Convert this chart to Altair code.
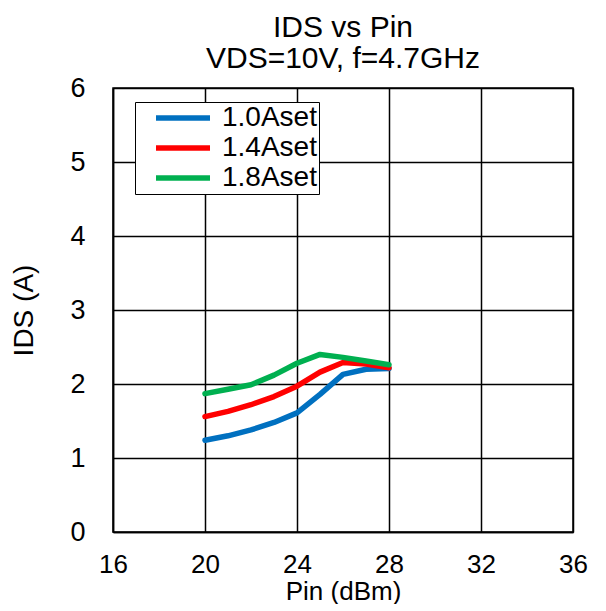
import altair as alt
import pandas as pd

pin = [20, 21, 22, 23, 24, 25, 26, 27, 28]
ids_10 = [1.24, 1.30, 1.38, 1.48, 1.61, 1.86, 2.13, 2.20, 2.21]
ids_14 = [1.56, 1.63, 1.72, 1.83, 1.97, 2.16, 2.29, 2.27, 2.22]
ids_18 = [1.87, 1.93, 1.99, 2.12, 2.28, 2.40, 2.36, 2.31, 2.26]
series = ["1.0Aset", "1.4Aset", "1.8Aset"]
colors = ["#0070C0", "#FF0000", "#00B050"]
x_ticks = [16, 20, 24, 28, 32, 36]
y_ticks = [0, 1, 2, 3, 4, 5, 6]

rows = []
for name, vals in zip(series, [ids_10, ids_14, ids_18]):
    for p, v in zip(pin, vals):
        rows.append({"Pin": p, "IDS": v, "Series": name})
df = pd.DataFrame(rows)

FONT = "Liberation Sans"

chart = alt.Chart(df).mark_line(strokeWidth=5.5, strokeCap="round", strokeJoin="round").encode(
    x=alt.X("Pin:Q", scale=alt.Scale(domain=[16, 36], nice=False),
            axis=alt.Axis(title="Pin (dBm)", values=x_ticks, labelOverlap=False,
                          labelFlush=False, labelPadding=19, titlePadding=1,
                          labelFontSize=26, titleFontSize=26)),
    y=alt.Y("IDS:Q", scale=alt.Scale(domain=[0, 6], nice=False),
            axis=alt.Axis(title="IDS (A)", values=y_ticks, labelOverlap=False,
                          labelFlush=False, labelPadding=28, titlePadding=31)),
    color=alt.Color("Series:N", scale=alt.Scale(domain=series, range=colors),
                    legend=alt.Legend(title=None, orient="none", legendX=22, legendY=14,
                                      symbolType="M-1,0L5,0", symbolSize=324,
                                      symbolStrokeWidth=5.5, labelFontSize=28,
                                      labelFont=FONT, labelColor="black",
                                      fillColor="white", strokeColor="black",
                                      padding=2, symbolOffset=14, rowPadding=2,
                                      labelOffset=43, labelLimit=300)),
).properties(
    width=460, height=444,
    title=alt.TitleParams(["IDS vs Pin", "VDS=10V, f=4.7GHz"], fontSize=30, font=FONT,
                          fontWeight="normal", color="black", lineHeight=31,
                          anchor="middle", offset=0),
    autosize=alt.AutoSizeParams(type="none"),
    padding={"left": 105, "top": 80, "right": 25, "bottom": 72},
).configure_axis(
    labelFont=FONT, titleFont=FONT, labelFontSize=27, titleFontSize=28,
    labelColor="black", titleColor="black", titleFontWeight="normal",
    grid=True, gridColor="black", gridWidth=1.5, gridOpacity=1,
    domainColor="black", domainWidth=1.5, ticks=False,
).configure_view(stroke="black", strokeWidth=1.5)

chart.save("out.html", embed_options={"renderer": "svg", "actions": False})
